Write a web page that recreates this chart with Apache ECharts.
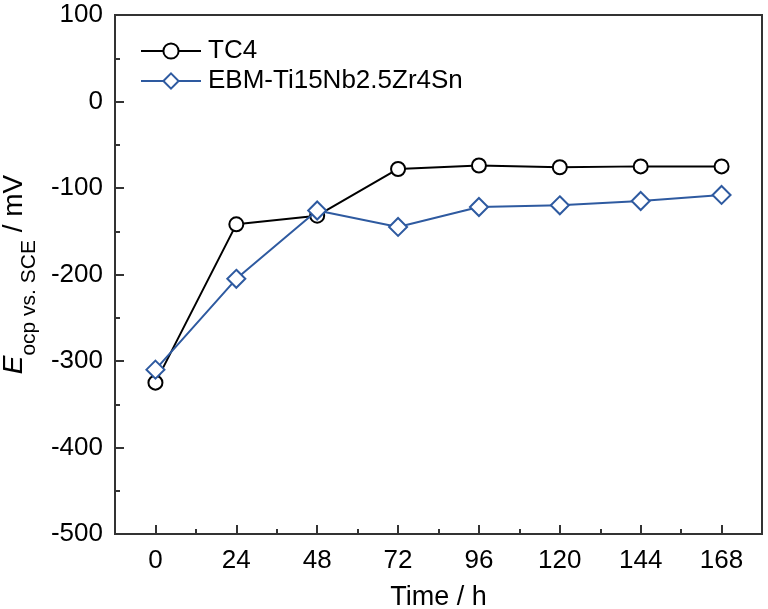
<!DOCTYPE html>
<html>
<head>
<meta charset="utf-8">
<script src="https://cdn.jsdelivr.net/npm/echarts@6/dist/echarts.min.js"></script>
<style>html,body{margin:0;padding:0;background:#fff}#c{width:768px;height:609px}</style>
</head>
<body>
<div id="c"></div>
<script>
var times = [0, 24, 48, 72, 96, 120, 144, 168];
var tc4 = [-325, -142, -132, -78, -74, -76, -75, -75];
var ebm = [-310, -205, -126, -145, -122, -120, -115, -108];
var xTicks = [0, 24, 48, 72, 96, 120, 144, 168];
var xMinorTicks = [12, 36, 60, 84, 108, 132, 156];
var seriesNames = ['TC4', 'EBM-Ti15Nb2.5Zr4Sn'];

var FONT = '"Liberation Sans", Arial, sans-serif';
var AX = '#333333';
var BLUE = '#2E5AA0';

function pairs(xs, ys) { return xs.map(function (x, i) { return [x, ys[i]]; }); }

var chart = echarts.init(document.getElementById('c'));
chart.setOption({
  animation: false,
  textStyle: { fontFamily: FONT, color: '#000' },
  grid: { left: 115, right: 6, top: 15, bottom: 75, outerBoundsMode: 'none', containLabel: false,
          show: true, borderColor: AX, borderWidth: 2, backgroundColor: 'transparent' },
  legend: {
    left: 135, top: 33, orient: 'vertical', itemWidth: 60, itemHeight: 19, itemGap: 4,
    textStyle: { fontSize: 26, fontFamily: FONT, color: '#000', padding: [0, 0, 0, 2] },
    data: seriesNames
  },
  xAxis: [{
    type: 'value', min: -12, max: 180, position: 'bottom',
    name: 'Time / h', nameLocation: 'middle', nameGap: 50,
    nameTextStyle: { fontSize: 27, fontFamily: FONT, color: '#000' },
    axisLine: { show: true, onZero: false, lineStyle: { color: AX, width: 2 } },
    axisTick: { show: true, inside: true, length: 9, lineStyle: { color: AX, width: 2 }, customValues: xTicks },
    axisLabel: { fontSize: 26, color: '#000', margin: 14, customValues: xTicks },
    splitLine: { show: false }
  }, {
    type: 'value', min: -12, max: 180, position: 'bottom',
    axisLine: { show: false, onZero: false },
    axisTick: { show: true, inside: true, length: 5, lineStyle: { color: AX, width: 2 }, customValues: xMinorTicks },
    axisLabel: { show: false },
    splitLine: { show: false }
  }],
  yAxis: {
    type: 'value', min: -500, max: 100, interval: 100,
    name: '{e|E}{sub|ocp vs. SCE}{u| / mV}', nameLocation: 'middle', nameGap: 79,
    nameTextStyle: {
      rich: {
        e: { fontSize: 28, fontStyle: 'italic', fontFamily: FONT, color: '#000', lineHeight: 32, verticalAlign: 'top' },
        sub: { fontSize: 21, fontFamily: FONT, color: '#000', lineHeight: 22, padding: [19, 0, 0, 0], verticalAlign: 'top' },
        u: { fontSize: 28, fontFamily: FONT, color: '#000', lineHeight: 32, verticalAlign: 'top' }
      }
    },
    axisLine: { show: true, onZero: false, lineStyle: { color: AX, width: 2 } },
    axisTick: { show: true, inside: true, length: 9, lineStyle: { color: AX, width: 2 } },
    minorTick: { show: true, splitNumber: 2, length: 5, lineStyle: { color: AX, width: 2 } },
    axisLabel: { fontSize: 26, color: '#000', margin: 12 },
    splitLine: { show: false }
  },
  series: [{
    name: seriesNames[0], type: 'line', data: pairs(times, tc4),
    symbol: 'circle', symbolSize: 14,
    lineStyle: { color: '#000', width: 2 },
    itemStyle: { color: '#fff', borderColor: '#000', borderWidth: 2 },
    z: 3
  }, {
    name: seriesNames[1], type: 'line', data: pairs(times, ebm),
    symbol: 'diamond', symbolSize: 18,
    lineStyle: { color: BLUE, width: 2 },
    itemStyle: { color: '#fff', borderColor: BLUE, borderWidth: 2 },
    z: 4
  }]
});
</script>
</body>
</html>
